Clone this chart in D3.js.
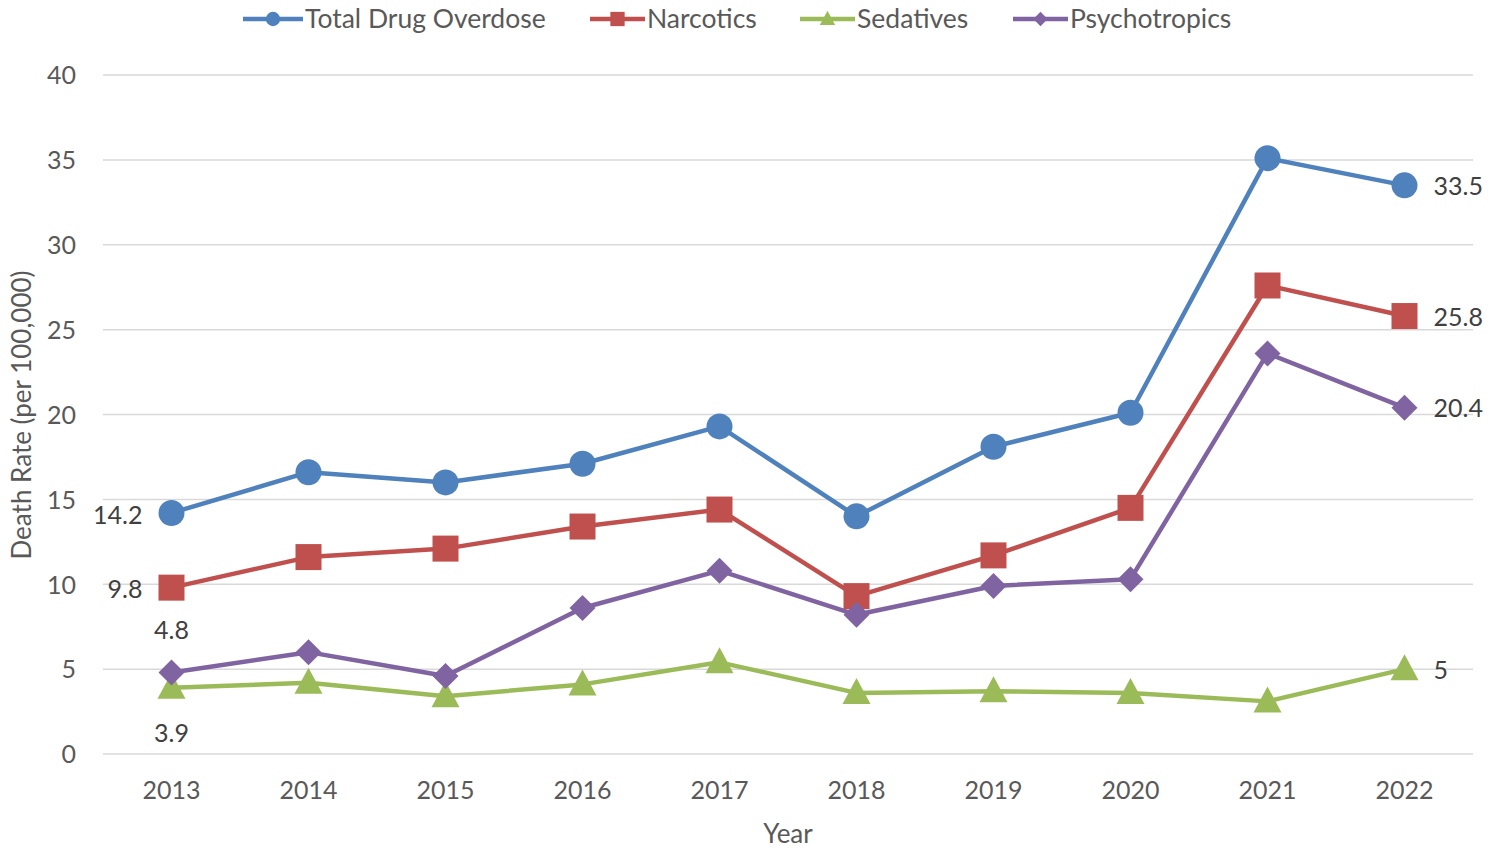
<!DOCTYPE html>
<html><head><meta charset="utf-8">
<script src="https://cdn.jsdelivr.net/npm/d3@7"></script>
<style>
html,body{margin:0;padding:0;background:#fff;}
svg{display:block;font-family:Lato,"Open Sans",sans-serif;}
</style></head>
<body><svg id="c" width="1504" height="850"></svg>
<script>
const years = ["2013","2014","2015","2016","2017","2018","2019","2020","2021","2022"];
const totalOverdose = [14.2,16.6,16.0,17.1,19.3,14.0,18.1,20.1,35.1,33.5];
const narcotics = [9.8,11.6,12.1,13.4,14.4,9.3,11.7,14.5,27.6,25.8];
const sedatives = [3.9,4.2,3.4,4.1,5.4,3.6,3.7,3.6,3.1,5.0];
const psychotropics = [4.8,6.0,4.6,8.6,10.8,8.2,9.9,10.3,23.6,20.4];
const yTicks = [0,5,10,15,20,25,30,35,40];

const series = [
  {name:"Total Drug Overdose", values:totalOverdose, color:"#4F81BD", shape:"circle"},
  {name:"Narcotics", values:narcotics, color:"#C0504D", shape:"square"},
  {name:"Sedatives", values:sedatives, color:"#9BBB59", shape:"triangle"},
  {name:"Psychotropics", values:psychotropics, color:"#8064A2", shape:"diamond"}
];

const FS = 25;
const svg = d3.select("#c");
const x = d3.scaleBand().domain(years).range([103,1473]);
const y = d3.scaleLinear().domain([0,40]).range([754,75]);
const cx = d => x(d) + x.bandwidth()/2;

// gridlines
svg.append("g").selectAll("line").data(yTicks).join("line")
  .attr("x1",103).attr("x2",1473)
  .attr("y1",d=>y(d)).attr("y2",d=>y(d))
  .attr("stroke","#D9D9D9").attr("stroke-width",1.5);

// y axis labels
const yAxis = d3.axisLeft(y).tickValues(yTicks).tickSize(0).tickPadding(0);
const ga = svg.append("g").attr("transform","translate(76,0)").call(yAxis);
ga.select(".domain").remove();
ga.selectAll("text").attr("font-size",FS).attr("fill","#595959").attr("font-family","Lato,sans-serif").attr("dy","0.35em");

const xAxis = d3.axisBottom(x).tickSize(0).tickPadding(0);
const gx = svg.append("g").attr("transform","translate(0,781)").call(xAxis);
gx.select(".domain").remove();
gx.selectAll("text").attr("font-size",FS).attr("fill","#595959").attr("font-family","Lato,sans-serif").attr("dy","0.71em");

svg.append("text").attr("x",788).attr("y",843).attr("text-anchor","middle")
  .attr("font-size",26).attr("fill","#595959").text("Year");
svg.append("text").attr("transform","translate(31,415) rotate(-90)").attr("text-anchor","middle")
  .attr("font-size",26).attr("fill","#595959").text("Death Rate (per 100,000)");

function marker(g, shape, color, s){
  if(shape==="circle") g.append("circle").attr("r",13*s).attr("fill",color);
  else if(shape==="square") g.append("rect").attr("x",-13*s).attr("y",-13*s).attr("width",26*s).attr("height",26*s).attr("fill",color);
  else if(shape==="triangle") g.append("path").attr("d",`M0,${-15*s}L${14*s},${11*s}L${-14*s},${11*s}Z`).attr("fill",color);
  else g.append("path").attr("d",`M0,${-13*s}L${13*s},0L0,${13*s}L${-13*s},0Z`).attr("fill",color);
}

const line = d3.line().x((d,i)=>cx(years[i])).y(d=>y(d));
series.forEach(s=>{
  svg.append("path").attr("d",line(s.values)).attr("fill","none")
    .attr("stroke",s.color).attr("stroke-width",4.5).attr("stroke-linejoin","round");
});
series.forEach(s=>{
  s.values.forEach((v,i)=>{
    const g = svg.append("g").attr("transform",`translate(${cx(years[i])},${y(v)})`);
    marker(g, s.shape, s.color, 1);
  });
});

// data labels
const lab = (txt,xp,yp,anchor)=>svg.append("text").attr("x",xp).attr("y",yp).attr("text-anchor",anchor)
  .attr("font-size",FS).attr("fill","#404040").attr("dy","0.35em").text(txt);
const first = years[0], last = years[years.length-1];
lab(String(totalOverdose[0]), cx(first)-29, y(totalOverdose[0])+2, "end");
lab(String(narcotics[0]), cx(first)-29, y(narcotics[0])+2, "end");
lab(String(psychotropics[0]), cx(first), y(psychotropics[0])-42, "middle");
lab(String(sedatives[0]), cx(first), y(sedatives[0])+45, "middle");
lab(String(totalOverdose[9]), cx(last)+29, y(totalOverdose[9])+1, "start");
lab(String(narcotics[9]), cx(last)+29, y(narcotics[9])+1, "start");
lab(String(psychotropics[9]), cx(last)+29, y(psychotropics[9])+1, "start");
lab(String(sedatives[9]), cx(last)+29, y(sedatives[9])+1, "start");

// legend
const legX = [243, 590, 800, 1013];
const legW = [60, 55, 55, 55];
series.forEach((s,i)=>{
  const g = svg.append("g").attr("transform",`translate(${legX[i]},19)`);
  g.append("line").attr("x1",0).attr("x2",legW[i]).attr("stroke",s.color).attr("stroke-width",4.5);
  const m = g.append("g").attr("transform",`translate(${legW[i]/2},0)`);
  marker(m, s.shape, s.color, 0.55);
  g.append("text").attr("x",legW[i]+2).attr("dy","0.35em").attr("font-size",26.5).attr("fill","#595959").text(s.name);
});
</script></body></html>
